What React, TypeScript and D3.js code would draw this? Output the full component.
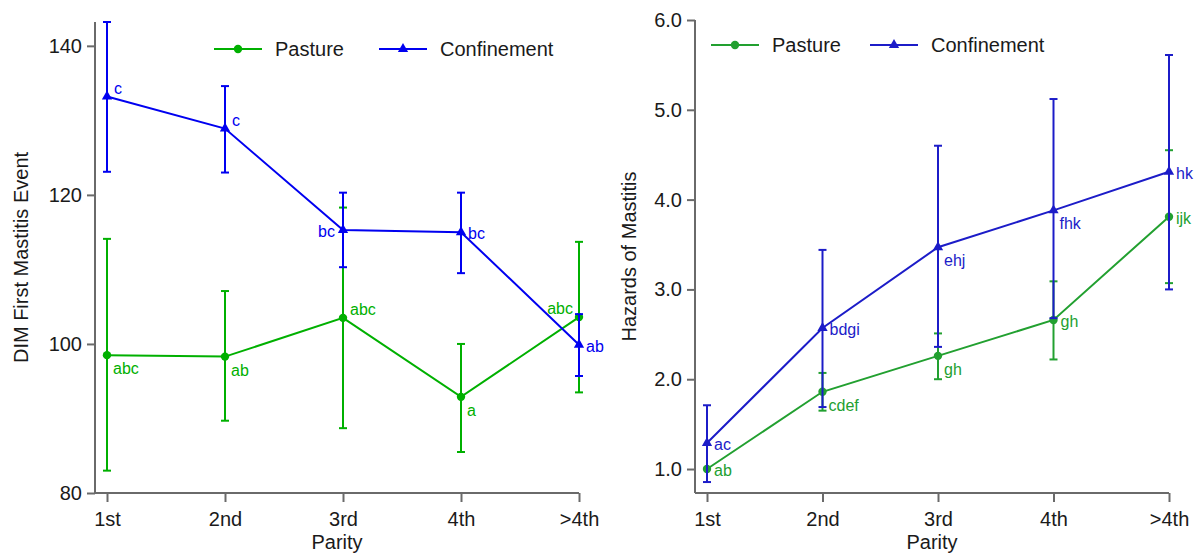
import React, { useEffect, useRef } from "react";
import * as d3 from "d3";

// Parity categories shared by both panels
const parity = ["1st", "2nd", "3rd", "4th", ">4th"];

// Left panel: DIM at first mastitis event
const dimPasture = [98.5, 98.3, 103.5, 92.9, 103.6];
const dimPastureLow = [83.0, 89.7, 88.7, 85.5, 93.5];
const dimPastureHigh = [114.1, 107.1, 118.3, 100.0, 113.7];
const dimPastureLetters = ["abc", "ab", "abc", "a", "abc"];
const dimPastureSpots = ["below", "below", "above", "below", "aboveLeft"];

const dimConf = [133.2, 128.9, 115.3, 115.0, 99.9];
const dimConfLow = [123.1, 123.0, 110.3, 109.5, 95.7];
const dimConfHigh = [143.2, 134.6, 120.3, 120.3, 104.0];
const dimConfLetters = ["c", "c", "bc", "bc", "ab"];
const dimConfSpots = ["above", "above", "left", "right", "right"];
const dimTicks = [80, 100, 120, 140];

// Right panel: hazards of mastitis
const hzPasture = [1.0, 1.86, 2.26, 2.66, 3.81];
const hzPastureLow = [null, 1.65, 2.0, 2.22, 3.07];
const hzPastureHigh = [null, 2.07, 2.51, 3.09, 4.55];
const hzPastureLetters = ["ab", "cdef", "gh", "gh", "ijk"];
const hzPastureSpots = ["right", "below", "below", "right", "right"];

const hzConf = [1.29, 2.57, 3.47, 3.88, 4.31];
const hzConfLow = [0.855, 1.69, 2.36, 2.68, 3.0];
const hzConfHigh = [1.71, 3.44, 4.6, 5.12, 5.61];
const hzConfLetters = ["ac", "bdgi", "ehj", "fhk", "hk"];
const hzConfSpots = ["right", "right", "below", "below", "right"];
const hzTicks = [1, 2, 3, 4, 5, 6];

const FONT = "'Liberation Sans', Arial, sans-serif";

// where each letter label sits relative to its point
const spotOffset = {
  right: { dx: 7, dy: 7, anchor: "start" },
  above: { dx: 7, dy: -3, anchor: "start" },
  below: { dx: 6, dy: 19, anchor: "start" },
  left: { dx: -8, dy: 7, anchor: "end" },
  aboveLeft: { dx: -6, dy: -3, anchor: "end" },
};

type Series = {
  name: string;
  values: number[];
  low: (number | null)[];
  high: (number | null)[];
  letters: string[];
  spots: string[];
  color: string;
  marker: "circle" | "triangle";
};

type Panel = {
  left: number;
  right: number;
  firstX: number;
  top: number;
  bottom: number;
  yDomain: [number, number];
  ticks: number[];
  format: string;
  yTitle: string;
  yTitleX: number;
  legendX: number;
  legendY: number;
  legendGap: number;
  series: Series[];
};

function drawPanel(svg: d3.Selection<SVGSVGElement, unknown, null, undefined>, p: Panel) {
  const g = svg.append("g");

  const x = d3.scalePoint<string>().domain(parity).range([p.firstX, p.right]);
  const y = d3.scaleLinear().domain(p.yDomain).range([p.bottom, p.top]);

  // y axis
  const yAxis = g
    .append("g")
    .attr("transform", `translate(${p.left},0)`)
    .call(
      d3
        .axisLeft(y)
        .tickValues(p.ticks)
        .tickFormat(d3.format(p.format) as any)
        .tickSize(8)
        .tickSizeOuter(0)
        .tickPadding(5)
    );
  yAxis.select(".domain").attr("d", `M0,${p.bottom}V${p.top}`);

  // x axis
  const xAxis = g
    .append("g")
    .attr("transform", `translate(0,${p.bottom})`)
    .call(d3.axisBottom(x).tickSize(9).tickSizeOuter(0).tickPadding(10));
  xAxis.select(".domain").attr("d", `M${p.left},0H${p.right}`);

  g.selectAll(".domain, .tick line").attr("stroke", "#6a6a6a").attr("stroke-width", 2);
  g.selectAll(".tick text")
    .attr("font-family", FONT)
    .attr("font-size", 20)
    .attr("fill", "#1a1a1a");

  // axis titles
  g.append("text")
    .attr("x", (p.left + p.right) / 2)
    .attr("y", 549)
    .attr("text-anchor", "middle")
    .attr("font-family", FONT)
    .attr("font-size", 20)
    .attr("fill", "#1a1a1a")
    .text("Parity");

  g.append("text")
    .attr("transform", `translate(${p.yTitleX},${(p.top + p.bottom) / 2}) rotate(-90)`)
    .attr("text-anchor", "middle")
    .attr("font-family", FONT)
    .attr("font-size", 20)
    .attr("fill", "#1a1a1a")
    .text(p.yTitle);

  const tri = d3.symbol().type(d3.symbolTriangle).size(46)();

  const line = d3
    .line<number>()
    .x((_, i) => x(parity[i]) as number)
    .y((d) => y(d));

  p.series.forEach((s) => {
    const sg = g.append("g");

    // error bars
    parity.forEach((c, i) => {
      const lo = s.low[i];
      const hi = s.high[i];
      if (lo == null || hi == null) return;
      const cx = x(c) as number;
      sg.append("line")
        .attr("x1", cx).attr("x2", cx)
        .attr("y1", y(lo)).attr("y2", y(hi))
        .attr("stroke", s.color).attr("stroke-width", 2);
      [lo, hi].forEach((v) => {
        sg.append("line")
          .attr("x1", cx - 4).attr("x2", cx + 4)
          .attr("y1", y(v)).attr("y2", y(v))
          .attr("stroke", s.color).attr("stroke-width", 2);
      });
    });

    sg.append("path")
      .attr("d", line(s.values))
      .attr("fill", "none")
      .attr("stroke", s.color)
      .attr("stroke-width", 2);

    s.values.forEach((v, i) => {
      const cx = x(parity[i]) as number;
      if (s.marker === "circle") {
        sg.append("circle").attr("cx", cx).attr("cy", y(v)).attr("r", 4.2).attr("fill", s.color);
      } else {
        sg.append("path").attr("d", tri).attr("transform", `translate(${cx},${y(v)})`).attr("fill", s.color);
      }
      const o = spotOffset[s.spots[i]];
      sg.append("text")
        .attr("x", cx + o.dx)
        .attr("y", y(v) + o.dy)
        .attr("text-anchor", o.anchor)
        .attr("font-family", FONT)
        .attr("font-size", 16)
        .attr("fill", s.color)
        .text(s.letters[i]);
    });
  });

  // legend
  let lx = p.legendX;
  p.series.forEach((s) => {
    const lg = g.append("g").attr("transform", `translate(${lx},${p.legendY})`);
    lg.append("line").attr("x1", 0).attr("x2", 48).attr("stroke", s.color).attr("stroke-width", 2);
    if (s.marker === "circle") {
      lg.append("circle").attr("cx", 24).attr("r", 4.2).attr("fill", s.color);
    } else {
      lg.append("path").attr("d", tri).attr("transform", "translate(24,0)").attr("fill", s.color);
    }
    lg.append("text")
      .attr("x", 61)
      .attr("y", 7)
      .attr("font-family", FONT)
      .attr("font-size", 20)
      .attr("fill", "#1a1a1a")
      .text(s.name);
    lx += p.legendGap;
  });
}

const App = () => {
  const ref = useRef<SVGSVGElement>(null);

  useEffect(() => {
    if (!ref.current) return;
    const svg = d3.select(ref.current);
    svg.selectAll("*").remove();

    drawPanel(svg, {
      left: 95,
      right: 579,
      firstX: 107,
      top: 22,
      bottom: 493,
      yDomain: [80, 143.2],
      ticks: dimTicks,
      format: "d",
      yTitle: "DIM First Mastitis Event",
      yTitleX: 28,
      legendX: 214,
      legendY: 49,
      legendGap: 165,
      series: [
        {
          name: "Pasture", values: dimPasture, low: dimPastureLow, high: dimPastureHigh,
          letters: dimPastureLetters, spots: dimPastureSpots, color: "#00b000", marker: "circle",
        },
        {
          name: "Confinement", values: dimConf, low: dimConfLow, high: dimConfHigh,
          letters: dimConfLetters, spots: dimConfSpots, color: "#0000f0", marker: "triangle",
        },
      ],
    });

    drawPanel(svg, {
      left: 695,
      right: 1169,
      firstX: 707,
      top: 20,
      bottom: 493,
      yDomain: [0.733, 6.0],
      ticks: hzTicks,
      format: ".1f",
      yTitle: "Hazards of Mastitis",
      yTitleX: 636,
      legendX: 711,
      legendY: 45,
      legendGap: 159,
      series: [
        {
          name: "Pasture", values: hzPasture, low: hzPastureLow, high: hzPastureHigh,
          letters: hzPastureLetters, spots: hzPastureSpots, color: "#22a030", marker: "circle",
        },
        {
          name: "Confinement", values: hzConf, low: hzConfLow, high: hzConfHigh,
          letters: hzConfLetters, spots: hzConfSpots, color: "#1c1cc8", marker: "triangle",
        },
      ],
    });
  }, []);

  return (
    <svg
      ref={ref}
      width={1197}
      height={557}
      style={{ position: "absolute", left: 0, top: 0, background: "#fff" }}
    />
  );
};

export default App;
